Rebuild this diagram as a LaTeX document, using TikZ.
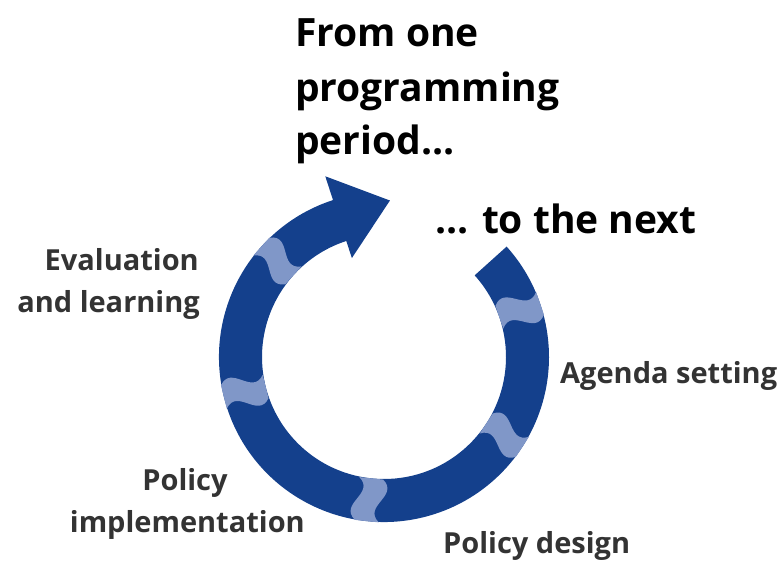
\documentclass[tikz,border=0pt]{standalone}
\usepackage{fontspec}
\setmainfont{Open Sans}
\usetikzlibrary{calc}
\definecolor{CycleBlue}{RGB}{20,64,140}
\definecolor{JointBlue}{RGB}{128,151,200}
\definecolor{LabelGray}{RGB}{51,51,51}

\begin{document}
\begin{tikzpicture}[x=1pt,y=1pt,
  headline/.style={font=\bfseries\fontsize{39}{47}\selectfont,inner sep=0pt},
  stage/.style={font=\bfseries\fontsize{29}{34}\selectfont,text=LabelGray,inner sep=0pt}]
  \useasboundingbox (0,0) rectangle (784,566);
  \coordinate (c) at (384,209);
  % ring and arrow head
  \fill[CycleBlue] ($(c)+(108:165)$) arc[start angle=108,end angle=402,radius=165]
    -- ($(c)+(42:122)$) arc[start angle=402,end angle=108,radius=122]
    -- ($(c)+(108:104)$) -- ($(c)+(108:147)+(18:54)$) -- ($(c)+(108:190)$) -- cycle;
  % joints between the stages
  \foreach \a in {19,138,194,264,327}
    \fill[JointBlue,shift={(c)},rotate=\a] (122,-12) .. controls (137,6) and (150,-30) .. (165,-12)
      -- (165,12) .. controls (150,-6) and (137,30) .. (122,12) -- cycle;
  \node[headline,anchor=base west] (from1) at (295,519) {From one};
  \node[headline,anchor=base west] (from2) at (295,464) {programming};
  \node[headline,anchor=base west] (from3) at (295,411) {period...};
  \node[headline,anchor=base west] (next) at (435,333) {... to the next};
  \node[stage,anchor=base east] (eval1) at (199,296) {Evaluation};
  \node[stage,anchor=base east] (eval2) at (200,254) {and learning};
  \node[stage,anchor=base west] (agenda) at (560,183) {Agenda setting};
  \node[stage,anchor=base] (impl1) at (185,76) {Policy};
  \node[stage,anchor=base east] (impl2) at (305,34) {implementation};
  \node[stage,anchor=base west] (design) at (443,13) {Policy design};
\end{tikzpicture}
\end{document}
